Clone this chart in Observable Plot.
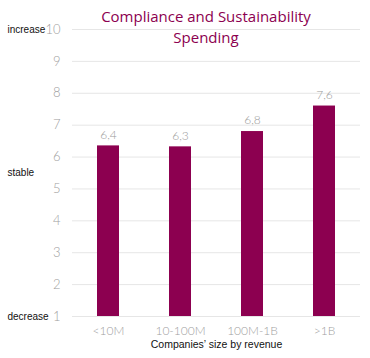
<!DOCTYPE html>
<html><head><meta charset="utf-8">
<script src="https://cdn.jsdelivr.net/npm/d3@7"></script>
<script src="https://cdn.jsdelivr.net/npm/@observablehq/plot@0.6"></script>
<style>
body{margin:0;background:#fff;}
#wrap{position:relative;width:370px;height:358px;}
#title{position:absolute;left:56px;width:300px;top:6px;text-align:center;font-family:"Open Sans",sans-serif;font-size:15px;line-height:21px;color:#8c0050;}
</style>
</head><body>
<div id="wrap"><div id="title">Compliance and Sustainability<br>Spending</div></div>
<script>
const categories = ["<10M", "10-100M", "100M-1B", ">1B"];
const values = [6.35, 6.32, 6.8, 7.6];
const valueLabels = ["6,4", "6,3", "6,8", "7,6"];
const yTicks = [1,2,3,4,5,6,7,8,9,10];
const sideLabels = ["increase", "stable", "decrease"];
const sidePositions = [10, 5.5, 1];
const xTitle = "Companies’ size by revenue";

const data = categories.map((c,i)=>({cat:c, v:values[i], label:valueLabels[i]}));
const side = sideLabels.map((t,i)=>({t, y:sidePositions[i]}));

const chart = Plot.plot({
  width: 370, height: 358,
  marginLeft: 72, marginRight: 10, marginTop: 29, marginBottom: 42,
  style: {fontFamily: "Lato, sans-serif", background: "transparent"},
  x: {domain: categories, paddingInner: 0.69, paddingOuter: 0.345},
  y: {domain: [1, 10]},
  marks: [
    Plot.gridY(yTicks, {stroke: "#e6e6e6", strokeOpacity: 1}),
    Plot.barY(data, {x: "cat", y1: 1, y2: "v", fill: "#8c0050"}),
    Plot.text(data, {x: "cat", y: "v", text: "label", dy: -11, fill: "#999", fontSize: 12, fontWeight: 300}),
    Plot.axisY({ticks: yTicks, tickSize: 0, tickPadding: 12, fontSize: 13, fontWeight: 300, color: "#a0a0a0", label: null, tickFormat: d => d}),
    Plot.axisX({tickSize: 0, tickPadding: 10, fontSize: 12, fontWeight: 300, color: "#a0a0a0", label: null}),
    Plot.text([xTitle], {frameAnchor: "bottom", dy: 31, fontSize: 10.5, fill: "#111", fontFamily: "Liberation Sans, Arial, sans-serif"}),
    Plot.text(side, {y: "y", text: "t", frameAnchor: "left", dx: -65, textAnchor: "start", fontSize: 10, fill: "#111", fontFamily: "Liberation Sans, Arial, sans-serif"})
  ]
});
document.getElementById("wrap").prepend(chart);
</script>
</body></html>
